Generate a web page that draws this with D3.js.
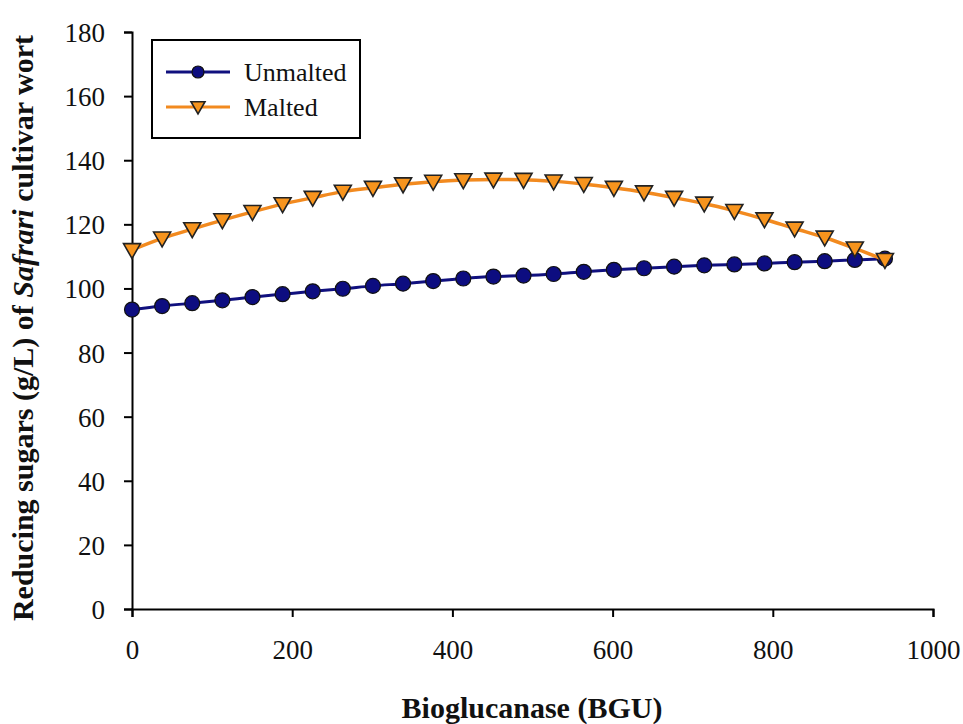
<!DOCTYPE html>
<html>
<head>
<meta charset="utf-8">
<script src="https://cdn.jsdelivr.net/npm/d3@7"></script>
<style>
  body { margin: 0; background: #fff; }
  svg { display: block; }
  svg text { font-family: 'Liberation Serif', 'Times New Roman', Times, 'DejaVu Serif', serif; }
</style>
</head>
<body>
<div id="chart"></div>
<script>
'use strict';

// enzyme dose (BGU)
var doses = [0, 37.6, 75.2, 112.8, 150.4, 188, 225.6, 263.2, 300.8, 338.4, 376, 413.6, 451.2,
             488.8, 526.4, 564, 601.6, 639.2, 676.8, 714.4, 752, 789.6, 827.2, 864.8, 902.4, 940];

var unmalted = [93.4, 94.5, 95.4, 96.3, 97.3, 98.2, 99.1, 99.9, 100.8, 101.5, 102.3, 103.1, 103.7,
                104.0, 104.5, 105.2, 105.8, 106.3, 106.8, 107.2, 107.5, 107.8, 108.2, 108.5, 108.9, 109.3];

var malted = [112.0, 115.6, 118.5, 121.3, 123.9, 126.3, 128.3, 130.2, 131.4, 132.5, 133.3, 133.8, 134.0,
              133.9, 133.4, 132.6, 131.4, 130.0, 128.3, 126.5, 124.2, 121.6, 118.7, 115.9, 112.5, 108.9];

var xTicks = [0, 200, 400, 600, 800, 1000];
var yTicks = [0, 20, 40, 60, 80, 100, 120, 140, 160, 180];
var seriesNames = ['Unmalted', 'Malted'];

function lineChart(){
    var scope = {};
    var exports = {};

    scope.cw = 963;
    scope.ch = 724;
    scope.margins = {top: 32, bottom: 115, left: 132, right: 30};
    scope.font = "'Liberation Serif', 'Times New Roman', Times, serif";
    scope.colors = {Unmalted: '#10107e', Malted: '#f28a1f'};
    scope.fills = {Unmalted: '#0d0d80', Malted: '#f7941d'};

    scope.appendSvg = function(div)
    {
        var node = d3.select(div).append('svg')
            .attr('width', scope.cw)
            .attr('height', scope.ch)
            .attr('font-family', scope.font)
            .style('background', '#fff');
        return node;
    }

    scope.createScales = function()
    {
        var w = scope.cw - scope.margins.left - scope.margins.right;
        var h = scope.ch - scope.margins.top - scope.margins.bottom;
        scope.xScale = d3.scaleLinear().domain([0, 1000]).range([0, w]);
        scope.yScale = d3.scaleLinear().domain([0, 180]).range([h, 0]);
        scope.w = w;
        scope.h = h;
    }

    scope.appendAxes = function(g)
    {
        var xAxis = d3.axisBottom(scope.xScale).tickValues(xTicks).tickFormat(d3.format('d'))
            .tickSize(8).tickSizeOuter(8);
        var yAxis = d3.axisLeft(scope.yScale).tickValues(yTicks).tickFormat(d3.format('d'))
            .tickSize(8).tickSizeOuter(8);

        var gx = g.append('g')
            .attr('transform', 'translate(0,' + scope.h + ')')
            .call(xAxis);
        gx.selectAll('text')
            .attr('y', 41)
            .attr('dy', '0.35em');

        var gy = g.append('g').call(yAxis);
        gy.selectAll('text')
            .attr('x', -27)
            .attr('dy', '0.35em');

        g.selectAll('.domain').attr('stroke', '#000').attr('stroke-width', 2);
        g.selectAll('.tick line').attr('stroke', '#000').attr('stroke-width', 2);
        g.selectAll('g').attr('font-family', null);
        g.selectAll('.tick text')
            .style('font-size', '27px')
            .attr('fill', '#111');
    }

    scope.appendTitles = function(svg)
    {
        svg.append('text')
            .attr('x', 532)
            .attr('y', 707)
            .attr('dy', '0.35em')
            .attr('text-anchor', 'middle')
            .style('font-size', '30px')
            .style('font-weight', 'bold')
            .attr('fill', '#111')
            .text('Bioglucanase (BGU)');

        var yt = svg.append('text')
            .attr('transform', 'translate(22,' + 328 + ') rotate(-90)')
            .attr('dy', '0.35em')
            .attr('text-anchor', 'middle')
            .style('font-size', '30px')
            .style('font-weight', 'bold')
            .attr('fill', '#111');
        yt.append('tspan').text('Reducing sugars (g/L) of ');
        yt.append('tspan').style('font-style', 'italic').text('Safrari');
        yt.append('tspan').text(' cultivar wort');
    }

    scope.marker = function(sel, name, size)
    {
        if (name === 'Unmalted') {
            sel.append('circle')
                .attr('r', size)
                .attr('fill', scope.fills[name])
                .attr('stroke', '#111')
                .attr('stroke-width', 1.2);
        } else {
            var s = size + 1;
            sel.append('path')
                .attr('d', 'M' + (-s) + ',' + (-s * 0.75) + 'L' + s + ',' + (-s * 0.75) + 'L0,' + (s * 1.0) + 'Z')
                .attr('fill', scope.fills[name])
                .attr('stroke', '#222')
                .attr('stroke-width', 1.6);
        }
    }

    scope.appendSeries = function(g, name, values)
    {
        var pts = doses.map(function(d, i) { return [d, values[i]]; });
        var line = d3.line()
            .x(function(d) { return scope.xScale(d[0]); })
            .y(function(d) { return scope.yScale(d[1]); })
            .curve(d3.curveMonotoneX);

        g.append('path')
            .datum(pts)
            .attr('d', line)
            .attr('fill', 'none')
            .attr('stroke', scope.colors[name])
            .attr('stroke-width', name === 'Malted' ? 3.5 : 3);

        var m = g.append('g').selectAll('g')
            .data(pts)
            .enter().append('g')
            .attr('transform', function(d) {
                return 'translate(' + scope.xScale(d[0]) + ',' + scope.yScale(d[1]) + ')';
            });
        scope.marker(m, name, 7.5);
    }

    scope.appendLegend = function(svg)
    {
        var lg = svg.append('g');
        lg.append('rect')
            .attr('x', 152).attr('y', 40)
            .attr('width', 208).attr('height', 98)
            .attr('fill', '#fff')
            .attr('stroke', '#000')
            .attr('stroke-width', 2);

        var items = lg.selectAll('.item')
            .data(seriesNames)
            .enter().append('g')
            .attr('class', 'item')
            .attr('transform', function(d, i) { return 'translate(0,' + (72 + i * 35) + ')'; });

        items.append('line')
            .attr('x1', 166).attr('x2', 230)
            .attr('stroke', function(d) { return scope.colors[d]; })
            .attr('stroke-width', 3);

        items.each(function(d) {
            var mk = d3.select(this).append('g').attr('transform', 'translate(198,0)');
            scope.marker(mk, d, 6);
        });

        items.append('text')
            .attr('x', 244)
            .attr('dy', '0.35em')
            .style('font-size', '26px')
            .attr('fill', '#111')
            .text(function(d) { return d; });
    }

    exports.run = function(div)
    {
        var svg = scope.appendSvg(div);
        scope.createScales();
        var g = svg.append('g')
            .attr('transform', 'translate(' + scope.margins.left + ',' + scope.margins.top + ')');
        scope.appendAxes(g);
        scope.appendSeries(g, 'Unmalted', unmalted);
        scope.appendSeries(g, 'Malted', malted);
        scope.appendTitles(svg);
        scope.appendLegend(svg);
    }
    return exports;
}

lineChart().run('#chart');
</script>
</body>
</html>
